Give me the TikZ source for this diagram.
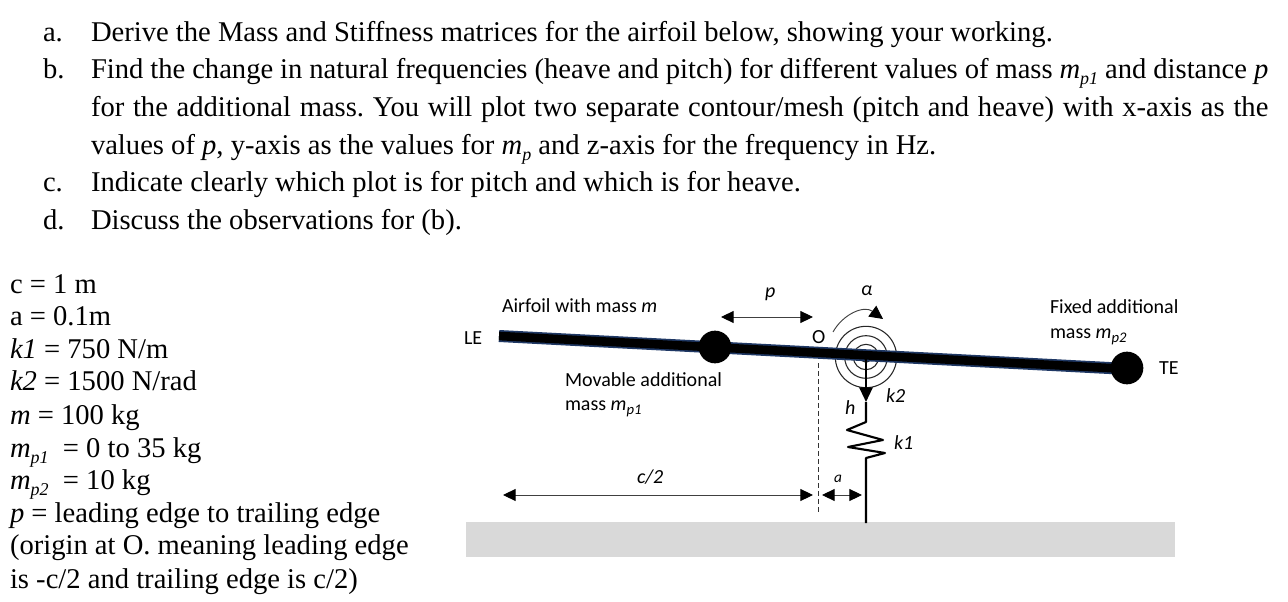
\documentclass[tikz,border=0pt]{standalone}
\usepackage{fontspec}
\setmainfont{Liberation Serif}
\newfontfamily\lblfont{Carlito}
\usetikzlibrary{arrows.meta}
\definecolor{navy}{HTML}{1F3864}
\definecolor{gnd}{HTML}{D9D9D9}
\newcommand{\lowsub}[1]{\raisebox{-0.2em}{\fontsize{13.5}{14}\selectfont\itshape #1}}
\newcommand{\lblsub}[1]{\raisebox{-0.2em}{\fontsize{11}{12}\selectfont\itshape #1}}
\tikzset{
  txt/.style={anchor=base west,inner sep=0pt,outer sep=0pt,yshift=-0.6pt,font=\fontsize{21.45}{25}\selectfont\frenchspacing},
  lbl/.style={anchor=base west,inner sep=0pt,outer sep=0pt,yshift=-0.75pt,font=\lblfont\fontsize{15}{18}\selectfont},
  dim/.style={draw=black!75,line width=0.7pt,{Triangle[length=9.5pt,width=9pt,color=black]}-{Triangle[length=9.5pt,width=9pt,color=black]}},
  solidm/.style={circle,fill=black,minimum size=24.5pt,inner sep=0pt},
  coil/.style={draw=black!85,line width=0.8pt,circle,inner sep=0pt},
  rod/.style={line width=1.6pt,draw=black}
}
\begin{document}
\begin{tikzpicture}[x=0.75pt,y=-0.75pt]
\useasboundingbox (0,0) rectangle (1288,602);
\fill[white] (0,0) rectangle (1288,602);
% question text
\node[txt] (qa) at (43,41) {a.};
\node[txt] (qat) at (91,41) {Derive the Mass and Stiffness matrices for the airfoil below, showing your working.};
\node[txt] (qb) at (43,78) {b.};
\node[txt] (qbt) at (91,78) {\hbox to 883pt{Find the change in natural frequencies (heave and pitch) for different values of mass \textit{m}\lowsub{p1} and distance \textit{p}}};
\node[txt] (qb2) at (91,116) {\hbox to 883pt{for the additional mass. You will plot two separate contour/mesh (pitch and heave) with x-axis as the}};
\node[txt] (qb3) at (91,154) {values of \textit{p}, y-axis as the values for \textit{m}\lowsub{p} and z-axis for the frequency in Hz.};
\node[txt] (qc) at (43,191) {c.};
\node[txt] (qct) at (91,191) {Indicate clearly which plot is for pitch and which is for heave.};
\node[txt] (qd) at (43,229) {d.};
\node[txt] (qdt) at (91,229) {Discuss the observations for (b).};
% parameter list
\node[txt] (l1) at (10,293) {c = 1 m};
\node[txt] (l2) at (10,325) {a = 0.1m};
\node[txt] (l3) at (10,358) {\textit{k1} = 750 N/m};
\node[txt] (l4) at (10,390) {\textit{k2} = 1500 N/rad};
\node[txt] (l5) at (10,424) {\textit{m} = 100 kg};
\node[txt] (l6) at (10,457) {\textit{m}\lowsub{p1} \ = 0 to 35 kg};
\node[txt] (l7) at (10,489) {\textit{m}\lowsub{p2} \ = 10 kg};
\node[txt] (l8) at (10,522) {\textit{p} = leading edge to trailing edge};
\node[txt] (l9) at (10,554) {(origin at O. meaning leading edge};
\node[txt] (l10) at (10,588) {is -c/2 and trailing edge is c/2)};
% ground
\fill[gnd] (466,522) rectangle (1175,557);
% torsion spring
\node[coil,minimum size=46pt] (s1) at (866,357) {};
\node[coil,minimum size=32pt] (s2) at (866,357) {};
\node[coil,minimum size=19pt] (s3) at (866,357) {};
\node[coil,minimum size=8pt] (s4) at (866,357) {};
% airfoil
\coordinate (le) at (499,336);
\coordinate (te) at (1128,369);
\draw[navy,line width=9pt] (le) -- (te);
\draw[black,line width=6.5pt] (le) -- (te);
\node[solidm] (mp1) at (715,347) {};
\node[solidm] (mp2) at (1127,368) {};
% heave arrow and spring
\coordinate (pivot) at (866,358);
\coordinate (htip) at (866,402);
\coordinate (kt) at (866,422);
\coordinate (kb) at (866,458);
\coordinate (gp) at (866,523);
\draw[rod,-{Triangle[length=11pt,width=10pt]}] (pivot) -- (htip);
\draw[rod,line join=round] (htip) -- (kt) -- (847,430) -- (883,440) -- (848,447) -- (885,453) -- (kb) -- (gp);
% dashed centre line
\coordinate (o1) at (818,363);
\coordinate (o2) at (818,513);
\draw[black!80,line width=0.7pt,dash pattern=on 3.5pt off 2.5pt] (o1) -- (o2);
% dimensions
\coordinate (p1) at (721,317);
\coordinate (p2) at (813,317);
\draw[dim] (p1) -- (p2);
\coordinate (c1) at (503,495);
\coordinate (c2) at (813,495);
\draw[dim] (c1) -- (c2);
\coordinate (a1) at (822,495);
\coordinate (a2) at (862,495);
\draw[dim] (a1) -- (a2);
% pitch arrow
\coordinate (al1) at (833,332);
\coordinate (al2) at (883,319);
\draw[black!75,line width=0.7pt,-{Triangle[length=10pt,width=10pt,color=black]}] (al1) .. controls (843,314) and (864,305) .. (al2);
% labels
\node[lbl] (tle) at (464,343) {LE};
\node[lbl] (tte) at (1159,373) {TE};
\node[lbl] (tair) at (502,311) {Airfoil with mass \textit{m}};
\node[lbl] (tmov) at (565,385) {Movable additional};
\node[lbl] (tmov2) at (565,409) {mass \textit{m}\lblsub{p1}};
\node[lbl] (tfix) at (1050,312) {Fixed additional};
\node[lbl] (tfix2) at (1050,337) {mass \textit{m}\lblsub{p2}};
\node[lbl] (tp) at (765,296) {\textit{p}};
\node[lbl] (talpha) at (861,295) {\textit{α}};
\node[lbl] (to) at (812,342) {O};
\node[lbl] (th) at (845,413) {\textit{h}};
\node[lbl] (tk2) at (886,401) {\textit{k2}};
\node[lbl] (tk1) at (894,448) {\textit{k1}};
\node[lbl] (tc) at (637,482) {\textit{c/2}};
\node[lbl,font=\lblfont\fontsize{11.5}{13}\selectfont] (ta) at (834,481) {\textit{a}};
\end{tikzpicture}
\end{document}
